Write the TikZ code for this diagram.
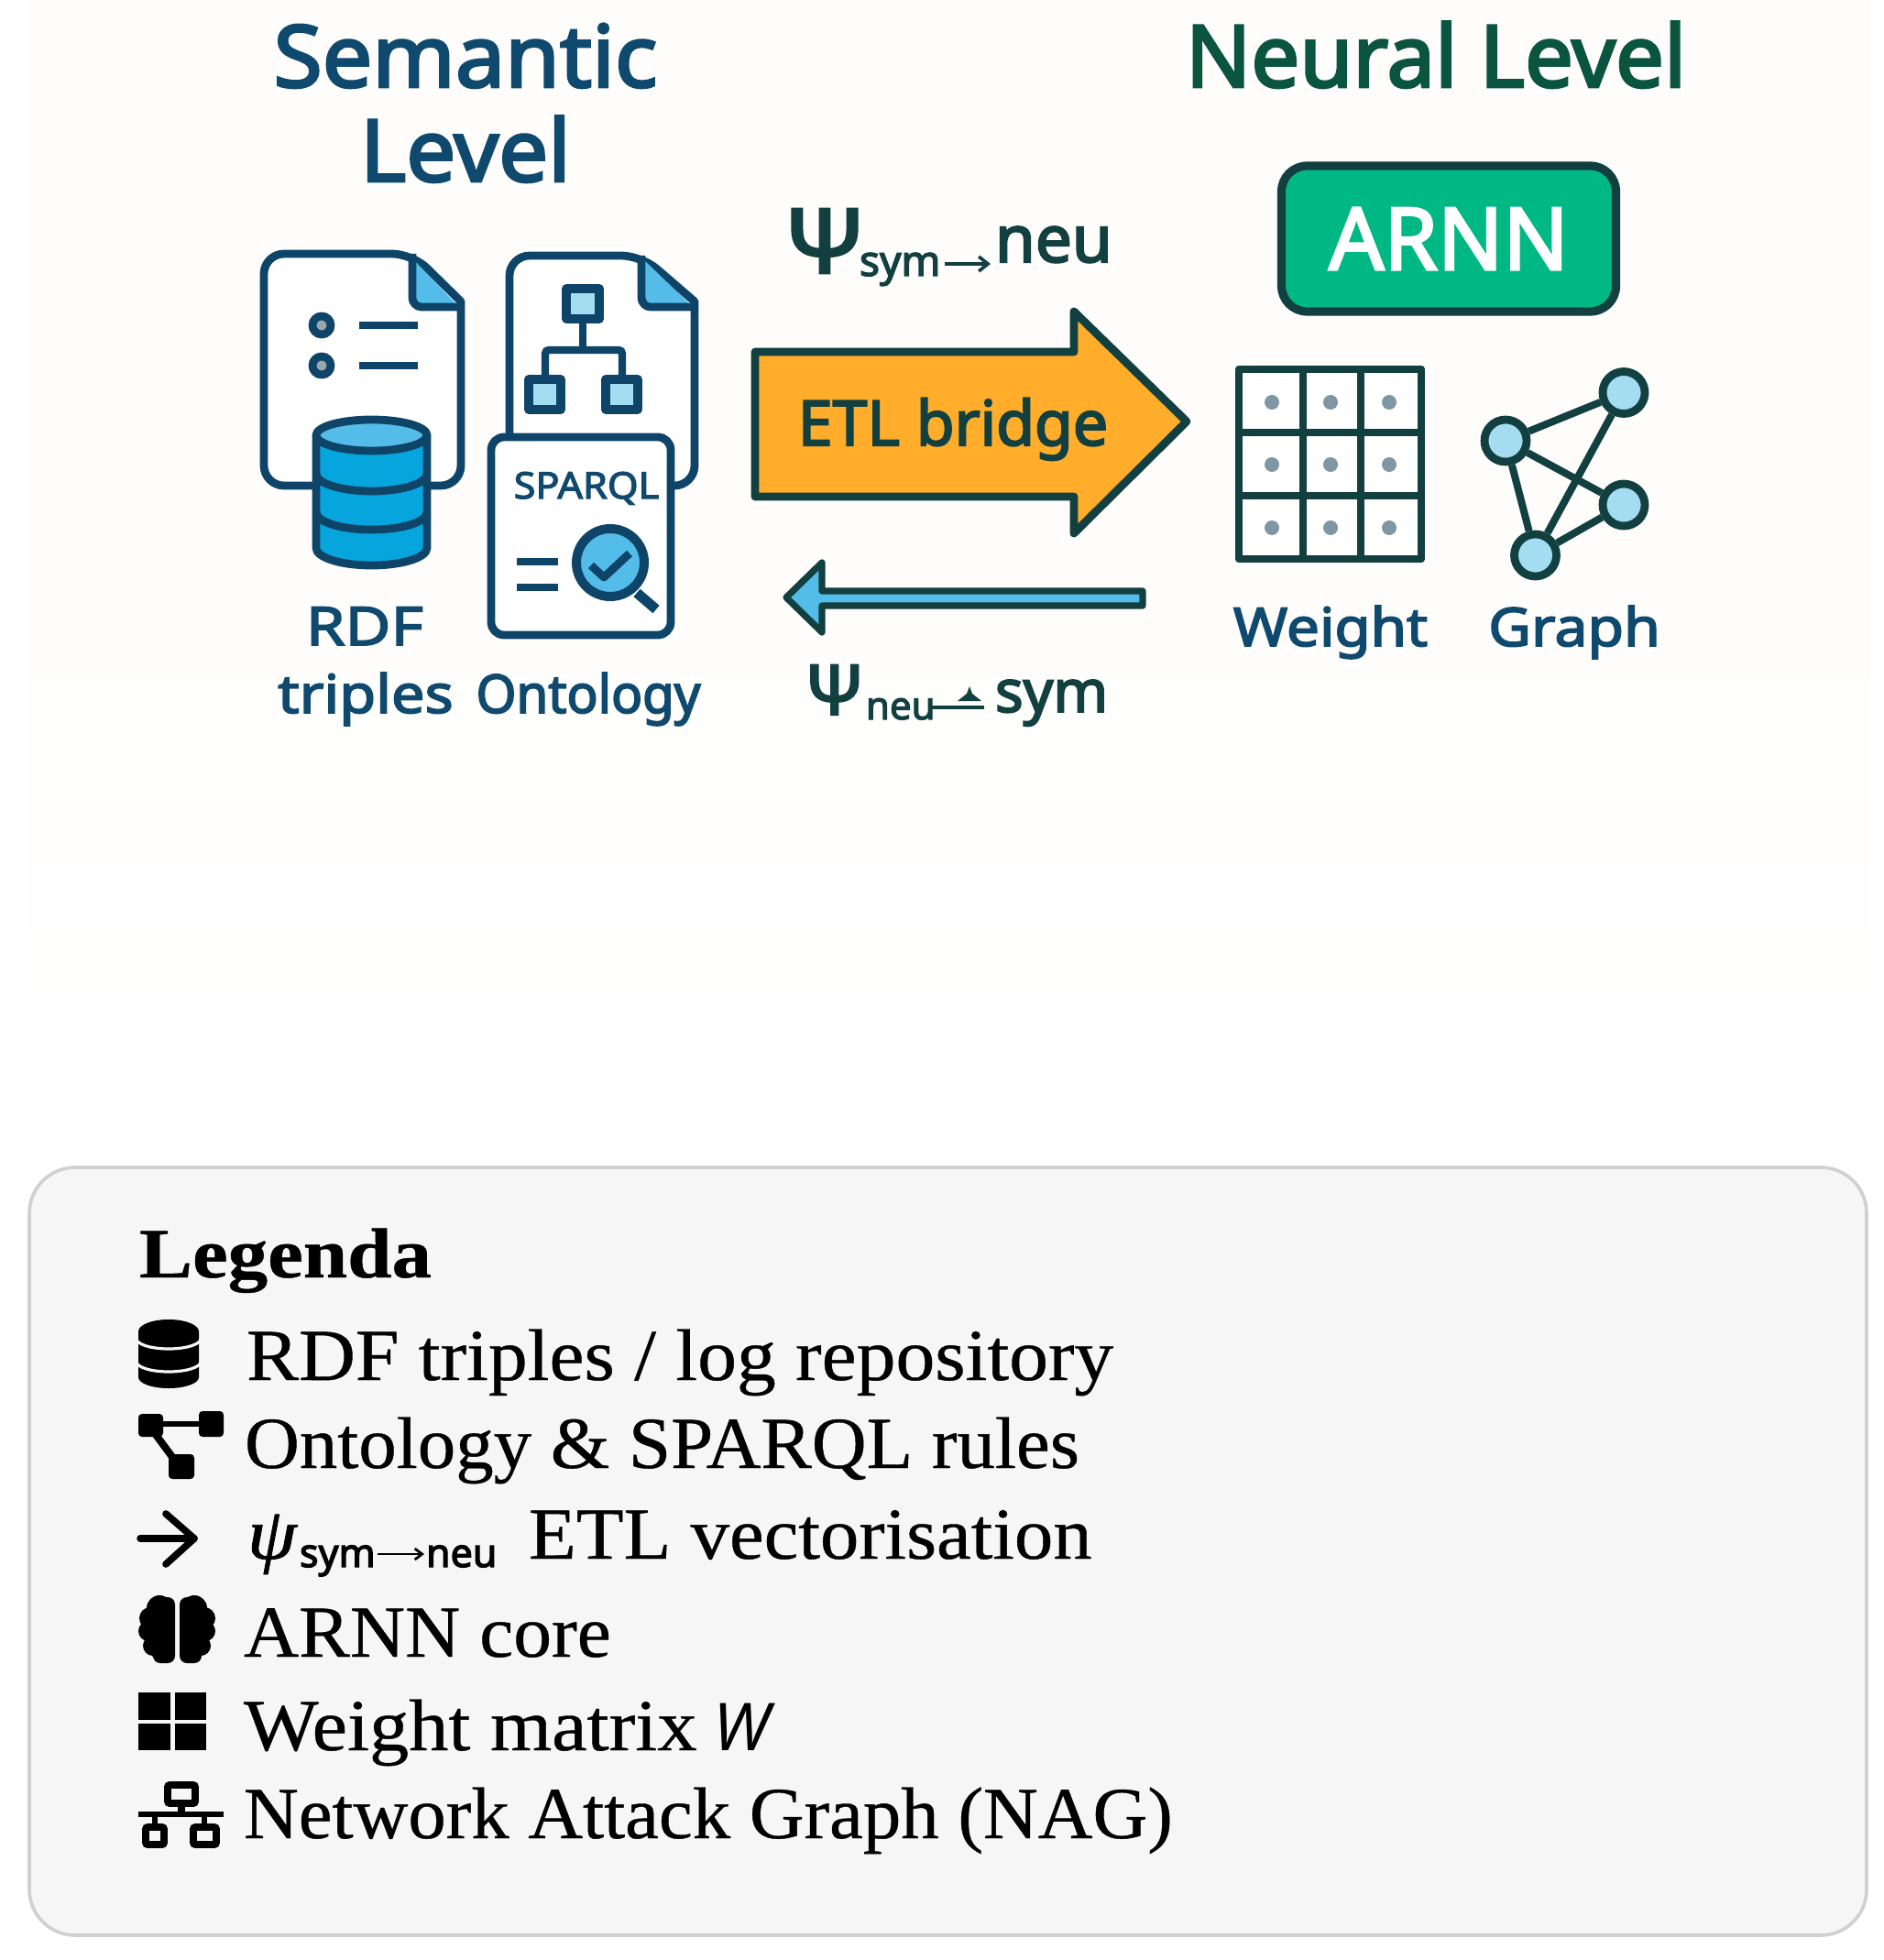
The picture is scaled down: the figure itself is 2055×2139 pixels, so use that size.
\documentclass[tikz,border=0pt]{standalone}
\usepackage{fontspec}
\usetikzlibrary{arrows.meta}
\setmainfont{Liberation Serif}
\newfontfamily\lab{Noto Sans}
\newfontfamily\labb[FakeBold=3]{Noto Sans}
\newfontfamily\legb[FakeStretch=1.13,FakeBold=0.6]{Liberation Serif Bold}
\newcommand{\st}[1]{\addfontfeature{FakeStretch=#1}}
\newcommand{\serfit}[1]{\addfontfeature{FakeStretch=#1,FakeBold=0.5}}
\definecolor{navy}{HTML}{0F4A6E}
\definecolor{navyline}{HTML}{0E4468}
\definecolor{forest}{HTML}{0B5540}
\definecolor{darkteal}{HTML}{123F3F}
\definecolor{sky}{HTML}{54BCE8}
\definecolor{dbblue}{HTML}{06A5DE}
\definecolor{pale}{HTML}{A4DCF2}
\definecolor{mint}{HTML}{00B884}
\definecolor{amber}{HTML}{FFAD2B}
\definecolor{panel}{HTML}{F6F6F6}
\definecolor{panelline}{HTML}{D0D0D0}
\definecolor{cream}{HTML}{FEFDFB}
\definecolor{dotgrey}{HTML}{7F97A3}
\definecolor{bulletgrey}{HTML}{9AA5AE}
\tikzset{
  txt/.style={inner sep=0pt,outer sep=0pt,anchor=base},
  txtw/.style={inner sep=0pt,outer sep=0pt,anchor=base west},
  titletxt/.style={txt,font=\labb\fontsize{47}{50}\selectfont},
  captxt/.style={txt,font=\labb\fontsize{29}{31}\selectfont,text=navy},
  legtxt/.style={txtw,font=\fontsize{40}{44}\selectfont,text=black},
  docline/.style={draw=navyline,line width=4.4pt,line join=round},
  barline/.style={draw=navyline,line width=4.2pt},
  orgbox/.style={draw=navyline,fill=pale,line width=4.8pt,line join=round},
  darkline/.style={draw=darkteal,line width=4.4pt,line join=round},
  gnode/.style={circle,draw=darkteal,fill=pale,line width=4.4pt,minimum size=23pt,inner sep=0pt},
  gedge/.style={draw=darkteal,line width=4pt},
  wdot/.style={circle,fill=dotgrey,minimum size=8pt,inner sep=0pt},
  iconfill/.style={fill=black,draw=none},
  iconl/.style={draw=black,line width=3.8pt}
}
\begin{document}
\begin{tikzpicture}[x=0.5pt,y=-0.5pt]
\useasboundingbox (0,0) rectangle (2055,2139);
\fill[white] (0,0) rectangle (2055,2139);
\fill[cream] (30,0) rectangle (2040,600);
\shade[top color=cream,bottom color=white,draw=none] (30,600) rectangle (2040,1150);

% Titles
\node[titletxt,text=navy] (t1) at (508,95) {\st{1.03}Semantic};
\node[titletxt,text=navy] (t2) at (508,198) {\st{1.02}Level};
\node[titletxt,text=forest] (t3) at (1567,95) {Neural Level};

% RDF document
\draw[docline,fill=white,rounded corners=11pt] (288,277) -- (450,277) [sharp corners] -- (503,329) [rounded corners=11pt] -- (503,530) -- (288,530) -- cycle;
\fill[sky] (450,282) -- (498,332) -- (450,332) -- cycle;
\draw[docline,rounded corners=5pt] (450,277) -- (450,335) -- (503,335);
\draw[draw=navyline,fill=bulletgrey,line width=4.4pt] (351,355) circle (5pt);
\draw[draw=navyline,fill=bulletgrey,line width=4.4pt] (351,399) circle (5pt);
\draw[barline] (392,355) -- (456,355);
\draw[barline] (392,399) -- (456,399);

% Database
\draw[docline,fill=dbblue] (345,475) -- (345,598) arc[start angle=180,end angle=0,x radius=60.5,y radius=19] -- (466,475) -- cycle;
\draw[docline,fill=sky] (405.5,475) ellipse[x radius=60.5,y radius=17];
\draw[docline] (345,517) arc[start angle=180,end angle=0,x radius=60.5,y radius=19];
\draw[docline] (345,559) arc[start angle=180,end angle=0,x radius=60.5,y radius=19];

% Ontology document
\draw[docline,fill=white,rounded corners=11pt] (556,279) -- (700,279) [sharp corners] -- (758,329) [rounded corners=11pt] -- (758,530) -- (556,530) -- cycle;
\fill[sky] (703,284) -- (753,332) -- (703,332) -- cycle;
\draw[docline,rounded corners=5pt] (700,279) -- (700,335) -- (758,335);
\draw[barline] (636,350) -- (636,382);
\draw[barline,rounded corners=2pt] (595,412) -- (595,382) -- (679,382) -- (679,412);
\draw[orgbox] (618,315) rectangle (654,348);
\draw[orgbox] (577,414) rectangle (612,447);
\draw[orgbox] (661,414) rectangle (696,447);

% SPARQL card
\draw[docline,fill=white,rounded corners=7pt] (536,477) rectangle (732,693);
\node[txt,font=\labb\fontsize{20}{22}\selectfont,text=navy] (sparql) at (640,544) {\st{1.08}SPARQL};
\draw[barline] (564,613) -- (609,613);
\draw[barline] (564,641) -- (609,641);
\draw[draw=navyline,line width=5.5pt] (695,647) -- (716,665);
\draw[draw=navyline,fill=sky,line width=5pt] (666,614) circle (18.5pt);
\draw[draw=navyline,line width=4.4pt,line join=round] (645,617) -- (659,630) -- (687,604);

% Captions
\node[captxt] (rdf) at (398,704) {\st{1.18}RDF};
\node[captxt] (tri) at (399,778) {\st{1.12}triples};
\node[captxt] (ont) at (642,778) {\st{0.97}Ontology};

% Psi forward
\node[txtw,font=\labb\fontsize{49}{51}\selectfont,text=darkteal] (psi1) at (855,298) {\st{1.12}Ψ};
\node[txtw,font=\labb\fontsize{23}{25}\selectfont,text=darkteal] (sub1) at (938,301) {sym};
\coordinate (a1s) at (1031,288);
\coordinate (a1e) at (1081,288);
\draw[draw=darkteal,line width=1.8pt,-{Straight Barb[length=5pt,width=8pt]}] (a1s) -- (a1e);
\node[txtw,font=\labb\fontsize{35.5}{38}\selectfont,text=darkteal] (neu1) at (1086,286) {neu};

% ETL arrow
\draw[darkline,fill=amber] (824,384) -- (1172,384) -- (1172,340) -- (1295,460) -- (1172,582) -- (1172,542) -- (824,542) -- cycle;
\node[txt,font=\labb\fontsize{34}{36}\selectfont,text=darkteal] (etl) at (1040,486) {ETL bridge};

% Back arrow
\draw[darkline,fill=sky,line width=3.6pt] (1247,645) -- (897,645) -- (897,614) -- (858,652) -- (897,690) -- (897,661) -- (1247,661) -- cycle;

% Psi back
\node[txtw,font=\labb\fontsize{38}{40}\selectfont,text=darkteal] (psi2) at (878,780) {\st{1.05}Ψ};
\node[txtw,font=\labb\fontsize{21}{22}\selectfont,text=darkteal] (sub2) at (945,785) {neu};
\coordinate (a2s) at (1015,772);
\coordinate (a2e) at (1074,772);
\draw[draw=darkteal,line width=1.8pt] (a2s) -- (a2e);
\fill[darkteal] (1045,765) -- (1055,757) -- (1058,749) -- (1061,757) -- (1071,765) -- cycle;
\node[txtw,font=\labb\fontsize{32}{34}\selectfont,text=darkteal] (sym2) at (1086,777) {sym};

% ARNN
\node[draw=darkteal,fill=mint,line width=4.6pt,rounded corners=14pt,minimum width=182.5pt,minimum height=79.5pt,inner sep=0pt,font=\labb\fontsize{47}{49}\selectfont,text=white] (arnn) at (1581,260.5) {ARNN};

% Weight grid
\fill[white] (1352,403) rectangle (1551,610);
\draw[darkline] (1352,403) rectangle (1551,610);
\draw[darkline] (1422,403) -- (1422,610);
\draw[darkline] (1485,403) -- (1485,610);
\draw[darkline] (1352,472) -- (1551,472);
\draw[darkline] (1352,541) -- (1551,541);
\foreach \xx/\nx in {1388/a,1452/b,1516/c}{
  \foreach \yy/\ny in {439/a,507/b,576/c}{
    \node[wdot] (d\nx\ny) at (\xx,\yy) {};
  }
}

% Graph
\node[gnode] (ga) at (1772,428.5) {};
\node[gnode] (gb) at (1643,481) {};
\node[gnode] (gc) at (1772,551) {};
\node[gnode] (gd) at (1675.5,606) {};
\draw[gedge] (ga) -- (gb);
\draw[gedge] (gb) -- (gc);
\draw[gedge] (gb) -- (gd);
\draw[gedge] (ga) -- (gd);
\draw[gedge] (gc) -- (gd);

\node[captxt] (wt) at (1452,705) {\st{1.1}Weight};
\node[captxt] (gr) at (1718,705) {\st{1.11}Graph};

% Legend panel
\draw[draw=panelline,fill=panel,line width=1.8pt,rounded corners=25pt] (32,1274) rectangle (2037,2112);
\node[txtw,font=\legb\fontsize{38.5}{40}\selectfont,text=black] (lt) at (152,1394) {Legenda};
\node[legtxt] (l1) at (269,1506) {\serfit{1.07}RDF triples / log repository};
\node[legtxt] (l2) at (267,1602) {\serfit{1.036}Ontology \& SPARQL rules};
\node[txtw,font=\itshape\fontsize{40}{44}\selectfont,text=black] (l3a) at (270,1701) {\addfontfeature{FakeStretch=1.08,FakeBold=1}ψ};
\node[txtw,font=\labb\fontsize{21.5}{23}\selectfont,text=black] (l3b) at (327,1710) {sym};
\coordinate (l3s) at (412,1696);
\coordinate (l3e) at (463,1696);
\draw[draw=black,line width=1.4pt,-{Straight Barb[length=4pt,width=6pt]}] (l3s) -- (l3e);
\node[txtw,font=\labb\fontsize{21.5}{23}\selectfont,text=black] (l3c) at (465,1710) {neu};
\node[legtxt] (l3d) at (577,1701) {\serfit{1.06}ETL vectorisation};
\node[legtxt] (l4) at (266,1808) {\serfit{1.043}ARNN core};
\node[legtxt] (l5) at (266,1910) {\serfit{1.08}Weight matrix};
\node[txtw,font=\lab\itshape\fontsize{36}{40}\selectfont,text=black] (l5w) at (778,1910) {W};
\node[legtxt] (l6) at (266,2006) {\serfit{1.035}Network Attack Graph (NAG)};

% Icon: database
\fill[iconfill] (151,1453) -- (151,1503) arc[start angle=180,end angle=0,x radius=33,y radius=12] -- (217,1453) arc[start angle=0,end angle=-180,x radius=33,y radius=13] -- cycle;
\draw[draw=panel,line width=1.6pt] (149,1461) arc[start angle=180,end angle=0,x radius=35,y radius=11];
\draw[draw=panel,line width=1.6pt] (149,1486) arc[start angle=180,end angle=0,x radius=35,y radius=11];

% Icon: hierarchy
\fill[iconfill,rounded corners=2pt] (151,1543) rectangle (178,1568);
\fill[iconfill,rounded corners=2pt] (217,1540) rectangle (244,1568);
\fill[iconfill,rounded corners=2pt] (184,1587) rectangle (212,1614);
\draw[draw=black,line width=3.2pt] (175,1554) -- (220,1554);
\draw[draw=black,line width=4pt] (168,1563) -- (188,1590);

% Icon: arrow
\draw[draw=black,line width=3.8pt,line cap=round,line join=round] (153,1679) -- (212,1679);
\draw[draw=black,line width=3.8pt,line cap=round,line join=round] (181,1652) -- (212,1679) -- (181,1707);

% Icon: brain
\begin{scope}
\clip (140,1735) rectangle (191,1820);
\fill[iconfill] (174,1755) circle (7pt);
\fill[iconfill] (164,1766) circle (6pt);
\fill[iconfill] (162,1780) circle (5.5pt);
\fill[iconfill] (167,1796) circle (5.5pt);
\fill[iconfill] (177,1802) circle (6pt);
\fill[iconfill,rounded corners=4pt] (167,1743) rectangle (191,1815);
\end{scope}
\begin{scope}
\clip (196,1735) rectangle (245,1820);
\fill[iconfill] (212,1755) circle (7pt);
\fill[iconfill] (223,1766) circle (6pt);
\fill[iconfill] (224,1780) circle (5.5pt);
\fill[iconfill] (219,1796) circle (5.5pt);
\fill[iconfill] (209,1802) circle (6pt);
\fill[iconfill,rounded corners=4pt] (196,1743) rectangle (220,1815);
\end{scope}

% Icon: four squares
\fill[iconfill] (151,1847) rectangle (186,1876.5);
\fill[iconfill] (191,1847) rectangle (225,1876.5);
\fill[iconfill] (151,1881) rectangle (186,1910);
\fill[iconfill] (191,1881) rectangle (225,1910);

% Icon: network
\draw[iconl,rounded corners=1pt] (183,1948) rectangle (213,1968);
\draw[iconl] (198,1968) -- (198,1980);
\draw[draw=black,line width=3pt] (151,1980) -- (244,1980);
\draw[draw=black,line width=3pt] (169,1980) -- (169,1993);
\draw[draw=black,line width=3pt] (223,1980) -- (223,1993);
\draw[iconl,rounded corners=1pt] (159,1994) rectangle (179,2013);
\draw[iconl,rounded corners=1pt] (211,1994) rectangle (236,2013);
\end{tikzpicture}
\end{document}
